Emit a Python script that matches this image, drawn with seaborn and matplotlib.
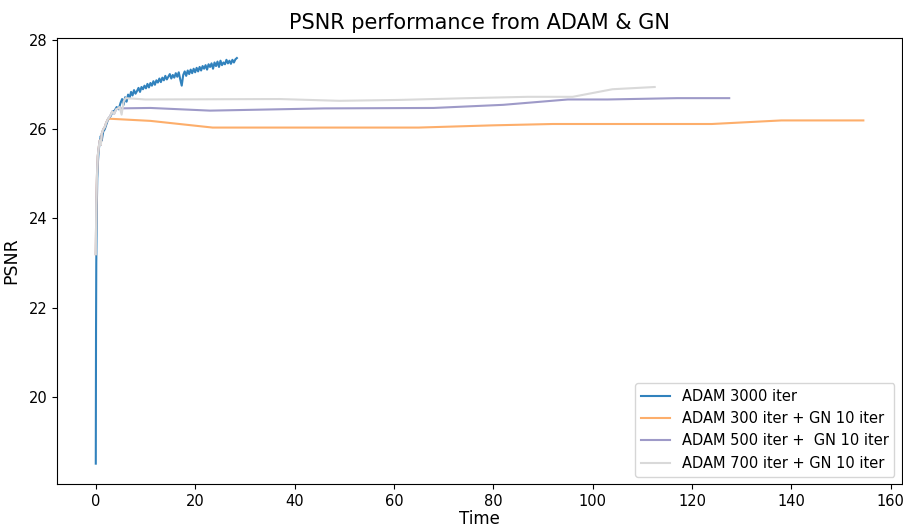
import matplotlib
matplotlib.use("Agg")
import matplotlib.pyplot as plt
import seaborn as sns
import pandas as pd

title = "PSNR performance from ADAM & GN"
labels = ["ADAM 3000 iter", "ADAM 300 iter + GN 10 iter",
          "ADAM 500 iter +  GN 10 iter", "ADAM 700 iter + GN 10 iter"]
colors = ["#3182bd", "#fdae6b", "#9e9ac8", "#d9d9d9"]

# ADAM 3000 iter
t_adam = [0.0, 0.05, 0.1, 0.2, 0.3, 0.45, 0.6, 0.8, 1.0, 1.2, 1.5, 1.8, 2.1, 2.4, 2.7,
          3.0, 3.4, 3.8, 4.2, 4.6,
          5.0, 5.3, 5.6, 5.9, 6.2, 6.5, 6.8, 7.1, 7.4, 7.7, 8.0, 8.3, 8.6, 8.9, 9.2,
          9.5, 9.8, 10.1, 10.4, 10.7, 11.0, 11.3, 11.6, 11.9, 12.2, 12.5, 12.8, 13.1,
          13.4, 13.7, 14.0, 14.3, 14.6, 14.9, 15.2, 15.5, 15.8, 16.1, 16.4, 16.7, 17.0,
          17.3, 17.6, 17.9, 18.2, 18.5, 18.8, 19.1, 19.4, 19.7, 20.0, 20.3, 20.6, 20.9,
          21.2, 21.5, 21.8, 22.1, 22.4, 22.7, 23.0, 23.3, 23.6, 23.9, 24.2, 24.5, 24.8,
          25.1, 25.4, 25.7, 26.0, 26.3, 26.6, 26.9, 27.2, 27.5, 27.8, 28.1, 28.4]
p_adam = [18.5, 21.5, 23.0, 24.2, 24.9, 25.3, 25.55, 25.7, 25.85, 25.75, 25.95, 26.0,
          26.1, 26.2, 26.25, 26.3, 26.4, 26.42, 26.5, 26.45,
          26.60, 26.68, 26.55, 26.72, 26.62, 26.78, 26.70, 26.84, 26.76, 26.88, 26.80,
          26.86, 26.93, 26.84, 26.95, 26.90, 26.98, 26.92, 27.02, 26.94, 27.04, 26.98,
          27.08, 27.00, 27.10, 27.05, 27.14, 27.06, 27.16, 27.10, 27.20, 27.12, 27.18,
          27.24, 27.14, 27.22, 27.16, 27.26, 27.18, 27.28, 27.12, 26.98, 27.22, 27.30,
          27.20, 27.32, 27.24, 27.34, 27.26, 27.36, 27.28, 27.38, 27.30, 27.40, 27.32,
          27.42, 27.36, 27.44, 27.34, 27.46, 27.40, 27.48, 27.36, 27.50, 27.42, 27.52,
          27.40, 27.54, 27.44, 27.50, 27.46, 27.56, 27.48, 27.54, 27.47, 27.56, 27.50,
          27.57, 27.60]

# ADAM 300 iter + GN 10 iter
t_gn300 = [0.0, 0.1, 0.25, 0.4, 0.6, 0.8, 1.0, 1.2, 1.5, 1.8, 2.1, 2.5,
           11.0, 23.5, 45.0, 65.0, 80.0, 92.0, 108.0, 124.0, 138.0, 154.5]
p_gn300 = [23.2, 24.3, 25.0, 25.4, 25.6, 25.75, 25.65, 25.9, 26.0, 26.05, 26.15, 26.24,
           26.19, 26.04, 26.04, 26.04, 26.09, 26.12, 26.12, 26.12, 26.20, 26.20]

# ADAM 500 iter + GN 10 iter
t_gn500 = [0.0, 0.1, 0.25, 0.4, 0.6, 0.8, 1.0, 1.2, 1.5, 1.8, 2.1, 2.5, 2.9, 3.3,
           3.7, 4.1, 4.5, 11.0, 23.0, 46.0, 68.0, 82.0, 95.0, 103.0, 117.0, 127.5]
p_gn500 = [23.2, 24.3, 25.0, 25.4, 25.6, 25.75, 25.65, 25.9, 26.0, 26.05, 26.15, 26.24,
           26.3, 26.4, 26.35, 26.45, 26.47, 26.48, 26.42, 26.47, 26.48, 26.55, 26.67,
           26.67, 26.70, 26.70]

# ADAM 700 iter + GN 10 iter
t_gn700 = [0.0, 0.1, 0.25, 0.4, 0.6, 0.8, 1.0, 1.2, 1.5, 1.8, 2.1, 2.5, 2.9, 3.3,
           3.7, 4.1, 4.5, 4.8, 5.2, 5.6, 6.0, 10.0, 37.0, 49.0, 61.0, 75.0, 87.0,
           96.0, 104.0, 112.5]
p_gn700 = [23.2, 24.3, 25.0, 25.4, 25.6, 25.75, 25.65, 25.9, 26.0, 26.05, 26.15, 26.24,
           26.3, 26.4, 26.35, 26.45, 26.47, 26.5, 26.33, 26.62, 26.70, 26.67, 26.68,
           26.64, 26.66, 26.70, 26.73, 26.73, 26.90, 26.95]

series = [(t_adam, p_adam), (t_gn300, p_gn300), (t_gn500, p_gn500), (t_gn700, p_gn700)]

fig = plt.figure(figsize=(9.04, 5.28), dpi=100)
ax = fig.add_axes([0.0635, 0.0835, 0.934, 0.845])

for (t, p), lab, c in zip(series, labels, colors):
    df = pd.DataFrame({"Time": t, "PSNR": p})
    sns.lineplot(data=df, x="Time", y="PSNR", ax=ax, color=c, label=lab,
                 sort=False, estimator=None, linewidth=1.5)

ax.set_title(title, fontsize=15)
ax.set_xlabel("Time", fontsize=12, labelpad=1)
ax.set_ylabel("PSNR", fontsize=12.5, labelpad=6)
ax.tick_params(labelsize=10.5, pad=3.5)
ax.set_xticks([0, 20, 40, 60, 80, 100, 120, 140, 160])
ax.set_yticks([20, 22, 24, 26, 28])
ax.legend(loc="lower right", fontsize=10.5, handlelength=2.0, borderaxespad=0.5)

fig.savefig("out.png", dpi=100)
